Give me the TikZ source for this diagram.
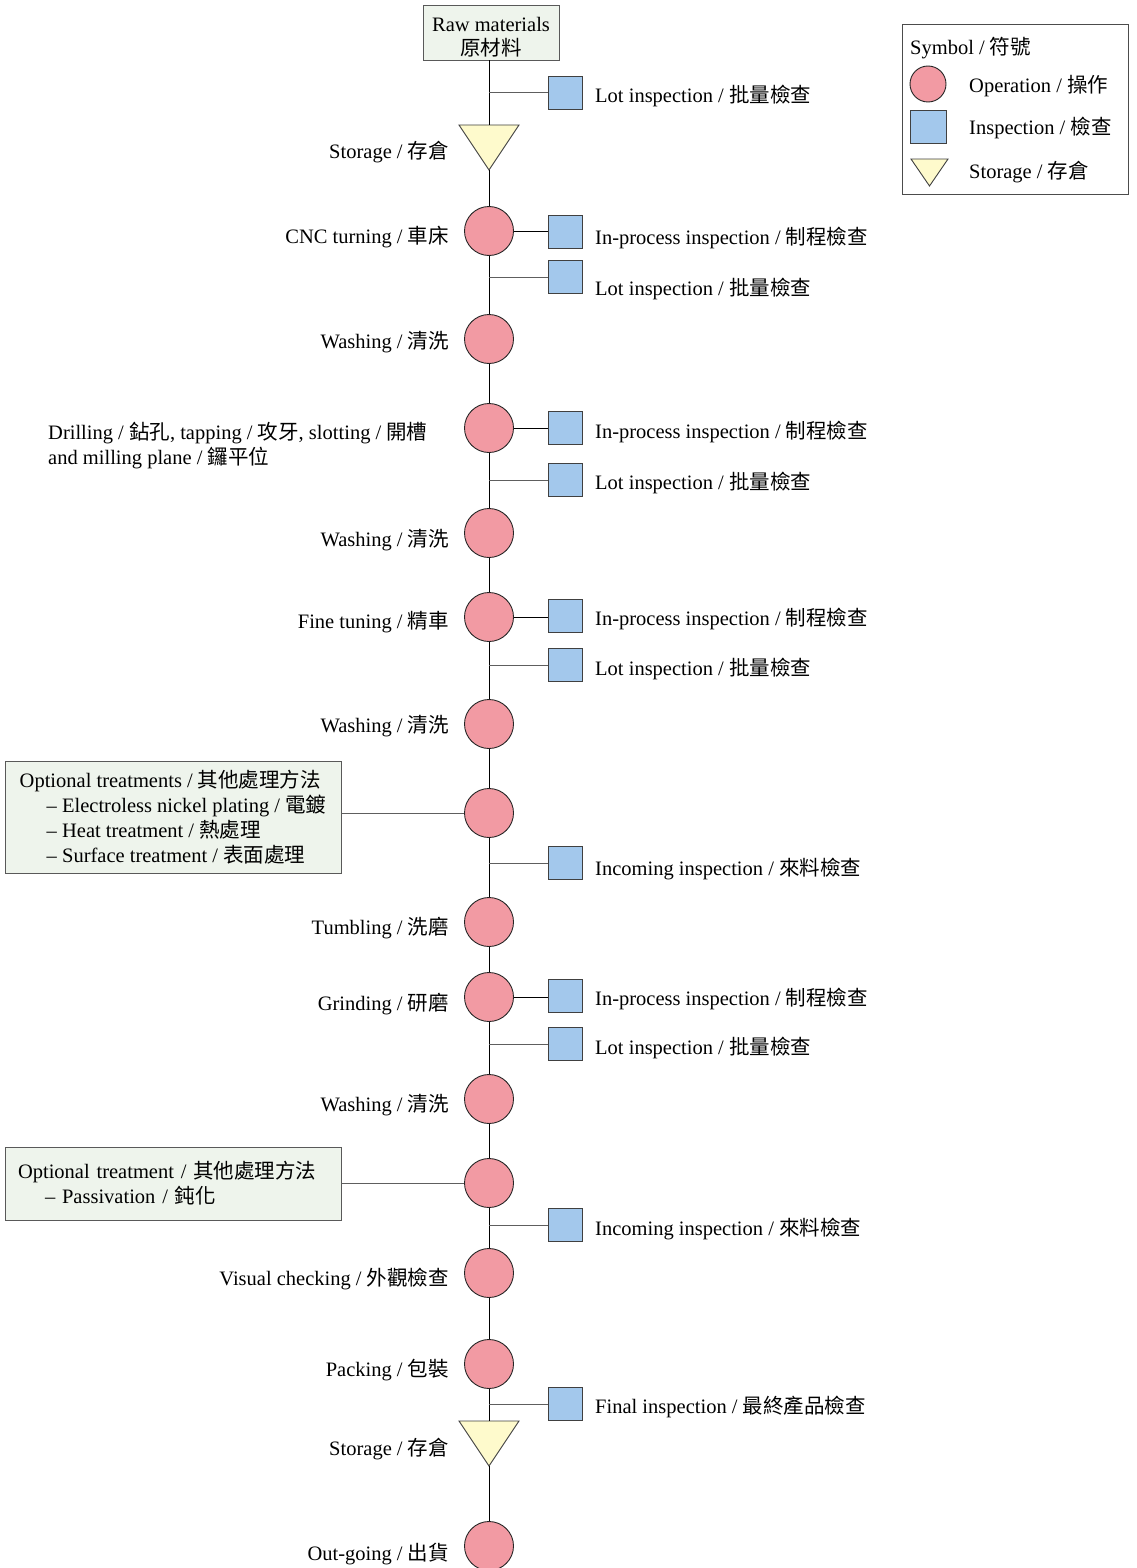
\documentclass[tikz,border=0pt]{standalone}
\usepackage{fontspec}
\setmainfont{Liberation Serif}
\newfontfamily\cjk{Noto Sans CJK TC}
\newcommand\zh[1]{{\cjk #1}}
\definecolor{opfill}{HTML}{F29AA3}
\definecolor{inspfill}{HTML}{A3C8EC}
\definecolor{storfill}{HTML}{FEFACC}
\definecolor{boxfill}{HTML}{EEF4EC}
\definecolor{branchgray}{HTML}{5E5E5E}
\begin{document}
\begin{tikzpicture}[x=1pt,y=-1pt,
  every node/.style={font=\fontsize{20.5}{24.5}\selectfont},
  op/.style={circle, draw=black!85, fill=opfill, minimum size=49pt, inner sep=0pt, line width=0.9pt},
  insp/.style={rectangle, draw=black!75, fill=inspfill, minimum width=34pt, minimum height=33pt, inner sep=0pt, line width=0.9pt},
  stor/.style={draw=black!75, fill=storfill, line width=0.9pt, line join=miter},
  gbox/.style={draw=black!65, fill=boxfill, line width=0.9pt, inner sep=0pt},
  lbl/.style={inner sep=0pt},
  mainln/.style={line width=1pt, black},
  brln/.style={line width=1pt, branchgray}]
\useasboundingbox (0,0) rectangle (1136,1568);
\coordinate (axis) at (489,0);

% raw materials
\node[gbox, minimum width=136pt, minimum height=55pt, align=center] (raw) at (491,32.5) {\rule{0pt}{24pt}Raw materials\\\zh{原材料}};

% storage 1
\filldraw[stor] (459,125) -- (519,125) -- (489,170) -- cycle;
\coordinate (s1t) at (489,125);
\coordinate (s1b) at (489,170);
\node[lbl, anchor=base east] (ls1) at (449,158) {Storage / \zh{存倉}};

% operations
\node[op] (cnc) at (489,231) {};
\node[op] (w1) at (489,339) {};
\node[op] (dr) at (489,428) {};
\node[op] (w2) at (489,533) {};
\node[op] (ft) at (489,617) {};
\node[op] (w3) at (489,724) {};
\node[op] (o1) at (489,813) {};
\node[op] (tu) at (489,922) {};
\node[op] (gr) at (489,997) {};
\node[op] (w4) at (489,1099) {};
\node[op] (o2) at (489,1183) {};
\node[op] (vc) at (489,1273) {};
\node[op] (pk) at (489,1364) {};
\node[op] (out) at (489,1546) {};

% storage 2
\filldraw[stor] (459,1421) -- (519,1421) -- (489,1466) -- cycle;
\coordinate (s2t) at (489,1421);
\coordinate (s2b) at (489,1466);
\node[lbl, anchor=base east] (ls2) at (449,1455) {Storage / \zh{存倉}};

% left labels
\node[lbl, anchor=base east] (lcnc) at (449,243) {CNC turning / \zh{車床}};
\node[lbl, anchor=base east] (lw1) at (449,348) {Washing / \zh{清洗}};
\node[lbl, anchor=base west, align=left] (ldr) at (48,464) {Drilling / \zh{鉆孔}, tapping / \zh{攻牙}, slotting / \zh{開槽}\\and milling plane / \zh{鑼平位}};
\node[lbl, anchor=base east] (lw2) at (449,546) {Washing / \zh{清洗}};
\node[lbl, anchor=base east] (lft) at (449,628) {Fine tuning / \zh{精車}};
\node[lbl, anchor=base east] (lw3) at (449,732) {Washing / \zh{清洗}};
\node[lbl, anchor=base east] (ltu) at (449,934) {Tumbling / \zh{洗磨}};
\node[lbl, anchor=base east] (lgr) at (449,1010) {Grinding / \zh{研磨}};
\node[lbl, anchor=base east] (lw4) at (449,1111) {Washing / \zh{清洗}};
\node[lbl, anchor=base east] (lvc) at (449,1285) {Visual checking / \zh{外觀檢查}};
\node[lbl, anchor=base east] (lpk) at (449,1376) {Packing / \zh{包裝}};
\node[lbl, anchor=base east] (lout) at (449,1560) {Out-going / \zh{出貨}};

% optional treatment boxes
\node[gbox, font=\fontsize{20.5}{25}\selectfont, minimum width=336pt, minimum height=112pt, align=left] (ob1) at (173,817)
 {Optional treatments / \zh{其他處理方法}\\\hspace*{27pt}– Electroless nickel plating / \zh{電鍍}\\\hspace*{27pt}– Heat treatment / \zh{熱處理}\\\hspace*{27pt}– Surface treatment / \zh{表面處理}};
\node[gbox, font=\fontsize{20.5}{25}\selectfont, minimum width=336pt, minimum height=73pt, text width=310pt, inner xsep=13pt, align=left] (ob2) at (173,1183.5)
 {Optional treatment / \zh{其他處理方法}\\\hspace*{27pt}– Passivation / \zh{鈍化}};

% inspections
\node[insp] (li1) at (565,93) {};
\node[insp] (ip1) at (565,232) {};
\node[insp] (lt1) at (565,277) {};
\node[insp] (ip2) at (565,428) {};
\node[insp] (lt2) at (565,480) {};
\node[insp] (ip3) at (565,616) {};
\node[insp] (lt3) at (565,665) {};
\node[insp] (inc1) at (565,863) {};
\node[insp] (ip4) at (565,996) {};
\node[insp] (lt4) at (565,1044) {};
\node[insp] (inc2) at (565,1225) {};
\node[insp] (fin) at (565,1404) {};

\node[lbl, anchor=base west] (tli1) at (595,103) {Lot inspection / \zh{批量檢查}};
\node[lbl, anchor=base west] (tip1) at (595,244) {In-process inspection / \zh{制程檢查}};
\node[lbl, anchor=base west] (tlt1) at (595,295) {Lot inspection / \zh{批量檢查}};
\node[lbl, anchor=base west] (tip2) at (595,438) {In-process inspection / \zh{制程檢查}};
\node[lbl, anchor=base west] (tlt2) at (595,489) {Lot inspection / \zh{批量檢查}};
\node[lbl, anchor=base west] (tip3) at (595,625) {In-process inspection / \zh{制程檢查}};
\node[lbl, anchor=base west] (tlt3) at (595,675) {Lot inspection / \zh{批量檢查}};
\node[lbl, anchor=base west] (tinc1) at (595,875) {Incoming inspection / \zh{來料檢查}};
\node[lbl, anchor=base west] (tip4) at (595,1005) {In-process inspection / \zh{制程檢查}};
\node[lbl, anchor=base west] (tlt4) at (595,1054) {Lot inspection / \zh{批量檢查}};
\node[lbl, anchor=base west] (tinc2) at (595,1235) {Incoming inspection / \zh{來料檢查}};
\node[lbl, anchor=base west] (tfin) at (595,1413) {Final inspection / \zh{最終產品檢查}};

% main flow line
\draw[mainln] (raw.south -| axis) -- (s1t);
\draw[mainln] (s1b) -- (cnc.north);
\draw[mainln] (cnc.south) -- (w1.north);
\draw[mainln] (w1.south) -- (dr.north);
\draw[mainln] (dr.south) -- (w2.north);
\draw[mainln] (w2.south) -- (ft.north);
\draw[mainln] (ft.south) -- (w3.north);
\draw[mainln] (w3.south) -- (o1.north);
\draw[mainln] (o1.south) -- (tu.north);
\draw[mainln] (tu.south) -- (gr.north);
\draw[mainln] (gr.south) -- (w4.north);
\draw[mainln] (w4.south) -- (o2.north);
\draw[mainln] (o2.south) -- (vc.north);
\draw[mainln] (vc.south) -- (pk.north);
\draw[mainln] (pk.south) -- (s2t);
\draw[mainln] (s2b) -- (out.north);

% branches
\draw[brln] (li1.west -| axis) -- (li1.west);
\draw[mainln] (cnc.east) -- (cnc.east -| ip1.west);
\draw[brln] (lt1.west -| axis) -- (lt1.west);
\draw[mainln] (dr.east) -- (dr.east -| ip2.west);
\draw[brln] (lt2.west -| axis) -- (lt2.west);
\draw[mainln] (ft.east) -- (ft.east -| ip3.west);
\draw[brln] (lt3.west -| axis) -- (lt3.west);
\draw[brln] (inc1.west -| axis) -- (inc1.west);
\draw[mainln] (gr.east) -- (gr.east -| ip4.west);
\draw[brln] (lt4.west -| axis) -- (lt4.west);
\draw[brln] (inc2.west -| axis) -- (inc2.west);
\draw[brln] (fin.west -| axis) -- (fin.west);
\draw[brln] (ob1.east |- o1.west) -- (o1.west);
\draw[brln] (ob2.east |- o2.west) -- (o2.west);

% legend
\node[draw=black!70, fill=white, line width=0.9pt, minimum width=226pt, minimum height=170pt, inner sep=0pt] (leg) at (1015,109) {};
\node[lbl, anchor=base west] (legt) at (910,55) {Symbol / \zh{符號}};
\node[op, minimum size=36pt] (lego) at (928,84) {};
\node[lbl, anchor=base west] (legot) at (969,93) {Operation / \zh{操作}};
\node[insp, minimum width=36pt, minimum height=33pt] (legi) at (928,127) {};
\node[lbl, anchor=base west] (legit) at (969,135) {Inspection / \zh{檢查}};
\filldraw[stor] (911,159) -- (948,159) -- (929.5,186) -- cycle;
\node[lbl, anchor=base west] (legst) at (969,178) {Storage / \zh{存倉}};
\end{tikzpicture}
\end{document}
